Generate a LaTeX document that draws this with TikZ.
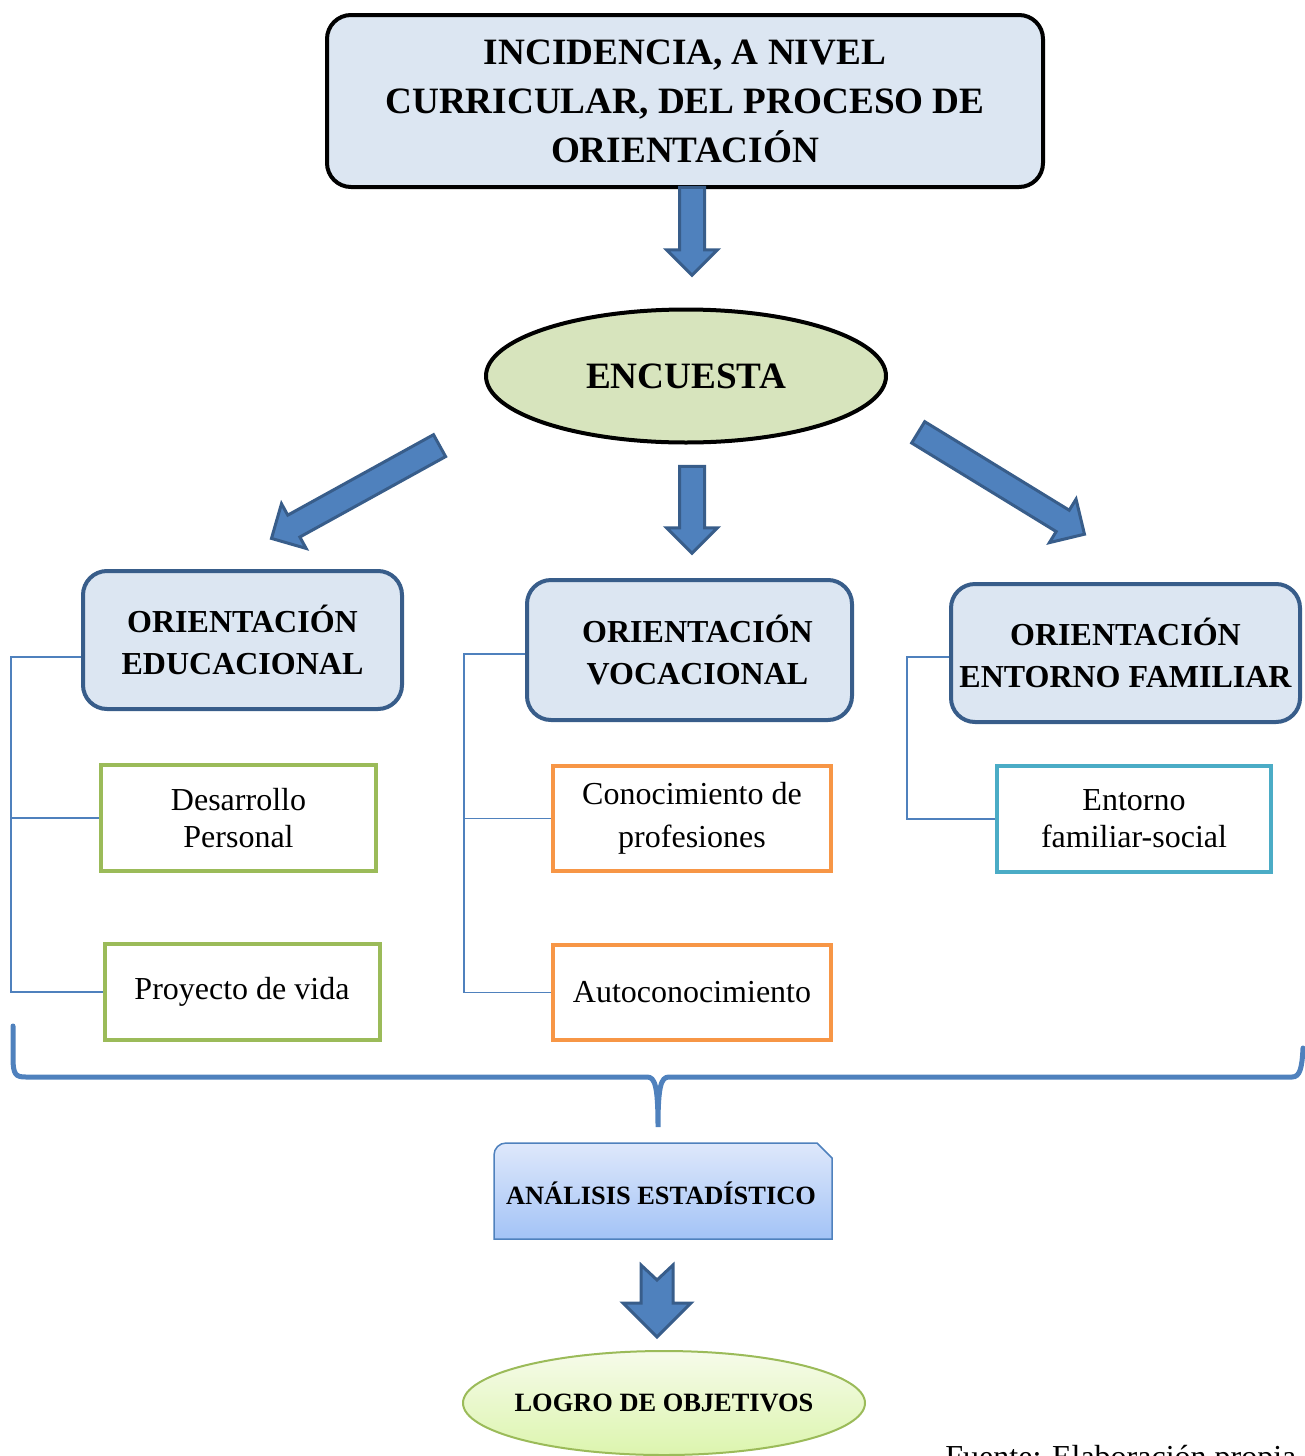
\documentclass[tikz,border=0pt]{standalone}
\usepackage{fontspec}
\setmainfont{Liberation Serif}
\usetikzlibrary{shapes.geometric,shapes.arrows}
\definecolor{hdrfill}{HTML}{DCE6F2}
\definecolor{hdrline}{HTML}{385D8A}
\definecolor{accblue}{HTML}{4F81BD}
\definecolor{encfill}{HTML}{D7E4BD}
\definecolor{accgreen}{HTML}{9BBB59}
\definecolor{accorange}{HTML}{F79646}
\definecolor{accaqua}{HTML}{4BACC6}
\definecolor{anatop}{HTML}{DEE8FB}
\definecolor{anabot}{HTML}{A3C3F6}
\definecolor{logtop}{HTML}{F6FBEA}
\definecolor{logbot}{HTML}{DCF5AE}

\begin{document}
\begin{tikzpicture}[x=0.5pt,y=-0.5pt,
    titlebox/.style={draw=black,line width=2pt,fill=hdrfill,rounded corners=12pt,align=center,inner sep=0pt,
      font=\bfseries\fontsize{18.6}{24.5}\selectfont},
    hdrbox/.style={draw=hdrline,line width=2pt,fill=hdrfill,rounded corners=12pt,align=center,inner sep=0pt,
      minimum height=69pt,font=\bfseries\fontsize{16}{21}\selectfont},
    itembox/.style={draw=#1,line width=2pt,fill=white,align=center,inner sep=0pt,
      minimum width=137.5pt,font=\fontsize{16}{18.5}\selectfont},
    blockarrow/.style={single arrow,draw=hdrline,fill=accblue,line width=1.5pt,inner sep=0pt,
      text height=5.5pt,text depth=5.5pt,text width=0pt,minimum width=24pt,single arrow head extend=6.5pt},
    link/.style={draw=accblue,line width=0.75pt}]
    \useasboundingbox (0,0) rectangle (1305,1456);
    \node[titlebox,minimum width=358pt,minimum height=86pt] (titulo) at (685,101) {INCIDENCIA, A NIVEL\\CURRICULAR, DEL PROCESO DE\\ORIENTACIÓN};
    \node[ellipse,draw=black,line width=2pt,fill=encfill,inner sep=0pt,minimum width=200pt,minimum height=66.5pt,
      font=\bfseries\fontsize{18.6}{22}\selectfont] (encuesta) at (686,376) {ENCUESTA};
    \node[hdrbox,minimum width=159.5pt] (edu) at (242.5,640) {ORIENTACIÓN\\EDUCACIONAL};
    \node[hdrbox,minimum width=162.5pt,minimum height=70pt] (voc) at (689.5,650) {\hspace*{8pt}ORIENTACIÓN\\\hspace*{8pt}VOCACIONAL};
    \node[hdrbox,minimum width=174.5pt] (fam) at (1125.5,653) {ORIENTACIÓN\\ENTORNO FAMILIAR};
    \node[itembox=accgreen,minimum height=53pt] (desa) at (238.5,818) {Desarrollo\\Personal};
    \node[itembox=accgreen,minimum height=48pt] (proy) at (242,992) {Proyecto de vida};
    \node[itembox=accorange,minimum width=139pt,minimum height=52.5pt,font=\fontsize{16}{21.5}\selectfont] (conoc) at (692,818.5) {Conocimiento de\\profesiones};
    \node[itembox=accorange,minimum width=139pt,minimum height=47.5pt] (auto) at (692,992.5) {Autoconocimiento};
    \node[itembox=accaqua,minimum width=137pt,minimum height=53pt] (entorno) at (1134,819) {Entorno\\familiar-social};
    \draw[link] ([yshift=-8.5pt]edu.west) -- ++(-70,0) |- (desa.west);
    \draw[link] ([yshift=-8.5pt]edu.west) -- ++(-70,0) |- (proy.west);
    \draw[link] ([yshift=-2pt]voc.west) -- ++(-61,0) |- (conoc.west);
    \draw[link] ([yshift=-2pt]voc.west) -- ++(-61,0) |- (auto.west);
    \draw[link] ([yshift=-2pt]fam.west) -- ++(-42,0) |- (entorno.west);
    \node[blockarrow,minimum height=44pt,rotate=-90] (flecha1) at (692,225) {};
    \node[blockarrow,minimum height=96pt,rotate=208.9] (flecha2) at (361,489) {};
    \node[blockarrow,minimum height=43.5pt,rotate=-90] (flecha3) at (692,503.5) {};
    \node[blockarrow,minimum height=97.5pt,rotate=-31.5] (flecha4) at (996,480) {};
    \draw[accblue,line width=2.5pt,line cap=round] (13,1026) -- (13,1058) .. controls (13,1075) and (16,1077) .. (26,1077)
      -- (647,1077) .. controls (655,1077) and (658,1086) .. (658,1127) .. controls (658,1086) and (661,1077) .. (669,1077)
      -- (1292,1077) .. controls (1300,1077) and (1302,1068) .. (1303,1048);
    \draw[accblue,line width=0.75pt,top color=anatop,bottom color=anabot] (494,1239) [rounded corners=6pt] -- (494,1143) [sharp corners] -- (817,1143) -- (832,1158) -- (832,1239) -- cycle;
    \node[font=\bfseries\fontsize{13.2}{16}\selectfont] (ana) at (661,1193) {ANÁLISIS ESTADÍSTICO};
    \draw[draw=hdrline,fill=accblue,line width=1.5pt] (641,1265) -- (657,1280) -- (673,1265) -- (673,1303) -- (691,1303) -- (657,1337) -- (623,1303) -- (641,1303) -- cycle;
    \node[ellipse,draw=accgreen,line width=1pt,top color=logtop,bottom color=logbot,inner xsep=-5pt,inner ysep=0pt,minimum width=201pt,minimum height=52pt,
      font=\bfseries\fontsize{13.2}{16}\selectfont] (logro) at (664,1403) {LOGRO DE OBJETIVOS};
    \node[anchor=base west,inner sep=0pt,font=\fontsize{16}{19}\selectfont] (fuente) at (945,1467) {Fuente: Elaboración propia};
\end{tikzpicture}
\end{document}
